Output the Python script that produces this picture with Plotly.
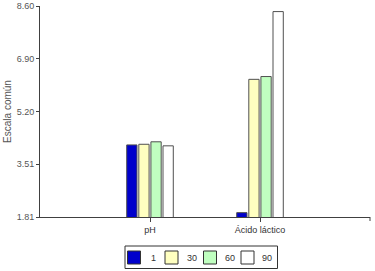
import plotly.graph_objects as go

categories = ["pH", "Ácido láctico"]
series_names = ["1", "30", "60", "90"]
values_1 = [4.13, 1.95]
values_30 = [4.15, 6.24]
values_60 = [4.23, 6.33]
values_90 = [4.10, 8.42]
y_ticks = [1.81, 3.51, 5.20, 6.90, 8.60]
y_ticktext = ["1.81", "3.51", "5.20", "6.90", "8.60"]

colors = ["#0000CC", "#FFFFC0", "#C0FFC0", "#FFFFFF"]
series = [values_1, values_30, values_60, values_90]

W, H = 375, 271
ML, MR, MT, MB = 40, 5, 6, 54
PW, PH = W - ML - MR, H - MT - MB


def px_x(px):
    return (px - ML) / PW


def px_y(py):
    return (H - MB - py) / PH


fig = go.Figure()
for name, vals, col in zip(series_names, series, colors):
    fig.add_trace(go.Bar(
        x=categories, y=vals, name=name,
        marker=dict(color=col, line=dict(color="#505050", width=1)),
    ))

axis_color = "#404040"
fig.update_layout(
    width=W, height=H,
    margin=dict(l=ML, r=MR, t=MT, b=MB, autoexpand=False),
    paper_bgcolor="white", plot_bgcolor="white",
    barmode="group", bargap=0.56, bargroupgap=0.15,
    font=dict(family="Liberation Sans, Arial, sans-serif", size=9, color="#333333"),
    showlegend=False,
    xaxis=dict(
        type="category", range=[-1, 2], showline=True, linecolor=axis_color,
        linewidth=1, ticks="outside", ticklen=4, tickcolor=axis_color,
        showgrid=False, zeroline=False, tickfont=dict(size=9, color="#333333"),
        fixedrange=True,
    ),
    yaxis=dict(
        range=[1.81, 8.60], tickvals=y_ticks, ticktext=y_ticktext,
        showline=True, linecolor=axis_color, linewidth=1, ticks="outside",
        ticklen=3, tickcolor=axis_color, showgrid=False, zeroline=False,
        tickfont=dict(size=9, color="#555555"),
        title=dict(text="Escala común", font=dict(size=10, color="#555555"), standoff=3),
        fixedrange=True,
    ),
)
# end tick on the category axis
fig.add_shape(type="line", xref="paper", yref="paper", x0=1, x1=1, y0=0, y1=-4 / PH,
              line=dict(color=axis_color, width=1))

# legend box (drawn manually to match the compact layout)
fig.add_shape(type="rect", xref="paper", yref="paper",
              x0=px_x(125), x1=px_x(277.5), y0=px_y(246), y1=px_y(268.5),
              line=dict(color="#333333", width=1), fillcolor="white", layer="above")
sw_left = [127.5, 165, 203.5, 241]
txt_center = [153, 192, 230, 267]
for name, col, sx, tx in zip(series_names, colors, sw_left, txt_center):
    fig.add_shape(type="rect", xref="paper", yref="paper",
                  x0=px_x(sx), x1=px_x(sx + 13), y0=px_y(251), y1=px_y(264),
                  line=dict(color="#333333", width=1), fillcolor=col, layer="above")
    fig.add_annotation(text=name, xref="paper", yref="paper",
                       x=px_x(tx), y=px_y(257.5), showarrow=False,
                       xanchor="center", yanchor="middle",
                       font=dict(size=9, color="#333333"))

fig.write_html("out.html", config={"displayModeBar": False},
               post_script="document.body.style.margin='0';document.body.style.overflow='hidden';")
